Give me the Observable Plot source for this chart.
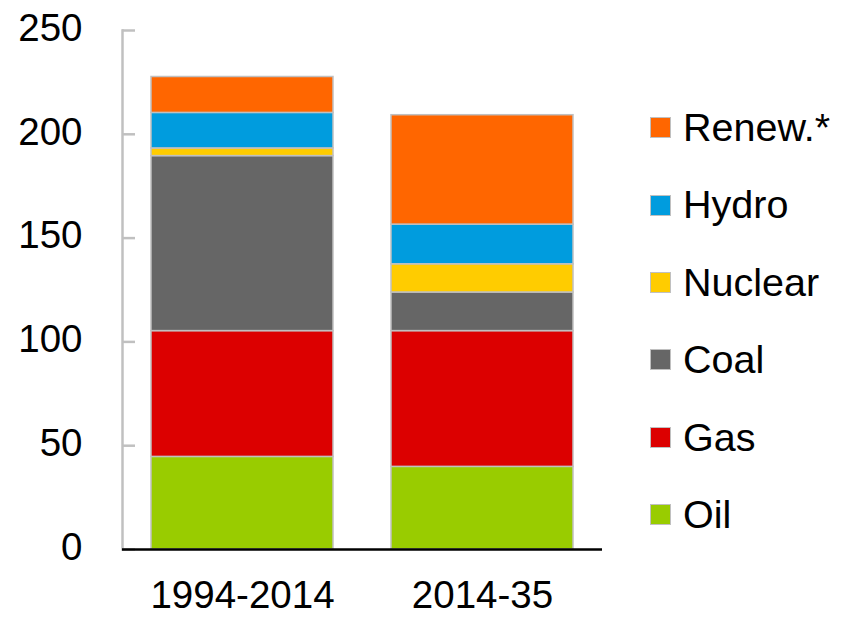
<!DOCTYPE html>
<html>
<head>
<meta charset="utf-8">
<script src="https://cdn.jsdelivr.net/npm/d3@7"></script>
<script src="https://cdn.jsdelivr.net/npm/@observablehq/plot@0.6"></script>
<style>
  html, body { margin: 0; padding: 0; background: #fff; }
  body { width: 845px; height: 617px; position: relative; overflow: hidden; font-family: "Liberation Sans", Arial, sans-serif; }
  #chart { position: absolute; left: 0; top: 0; }
  #legend { position: absolute; left: 650px; top: 89px; }
  .row { display: flex; align-items: center; height: 77.4px; }
  .sw { width: 19px; height: 19px; border: 1.5px solid #c0c0c0; margin-right: 12px; box-sizing: content-box; }
  .lab { font-size: 39.5px; color: #000; line-height: 1; }
</style>
</head>
<body>
<div id="chart"></div>
<div id="legend"></div>
<script>
const periods = ["1994-2014", "2014-35"];
const series = ["Oil", "Gas", "Coal", "Nuclear", "Hydro", "Renew.*"];
const values1994_2014 = [44.6, 60.6, 84.3, 3.7, 17.1, 17.3];
const values2014_35 = [39.8, 65.4, 18.6, 13.6, 19.1, 52.7];
const colors = ["#99cc00", "#dc0000", "#666666", "#ffcc00", "#009cde", "#ff6600"];
const yTicks = [0, 50, 100, 150, 200, 250];

const rows = [];
[values1994_2014, values2014_35].forEach((vals, i) => {
  series.forEach((s, j) => rows.push({period: periods[i], series: s, value: vals[j]}));
});

const marginLeft = 122, width = 620, marginRight = 18;
const frameW = width - marginLeft - marginRight;

const plot = Plot.plot({
  width, height: 617,
  marginLeft, marginRight, marginTop: 30, marginBottom: 68,
  style: {fontFamily: "'Liberation Sans', Arial, sans-serif", fontSize: "38px", color: "#000", background: "transparent"},
  x: {domain: periods, paddingInner: 0.24, paddingOuter: 0.12, label: null},
  y: {domain: [0, 250], ticks: yTicks, label: null},
  color: {domain: series, range: colors},
  marks: [
    Plot.frame({anchor: "left", stroke: "#c0c0c0", strokeWidth: 2.5}),
    Plot.tickY(yTicks, {y: d => d, insetRight: frameW - 13, stroke: "#c0c0c0", strokeWidth: 2.5}),
    Plot.barY(rows, {x: "period", y: "value", fill: "series", stroke: "#c0c0c0", strokeWidth: 1.5, order: series}),
    Plot.ruleY([0], {stroke: "#000", strokeWidth: 2.5}),
    Plot.axisY({ticks: yTicks, tickSize: 0, tickPadding: 40, fontSize: 38.5, label: null, dy: -2}),
    Plot.axisX({tickSize: 0, tickPadding: 31, fontSize: 38.5, label: null})
  ]
});
document.getElementById("chart").appendChild(plot);

const legend = document.getElementById("legend");
series.slice().reverse().forEach(s => {
  const idx = series.indexOf(s);
  const row = document.createElement("div");
  row.className = "row";
  const sw = document.createElement("div");
  sw.className = "sw";
  sw.style.background = colors[idx];
  const lab = document.createElement("span");
  lab.className = "lab";
  lab.textContent = s;
  row.appendChild(sw);
  row.appendChild(lab);
  legend.appendChild(row);
});
</script>
</body>
</html>
